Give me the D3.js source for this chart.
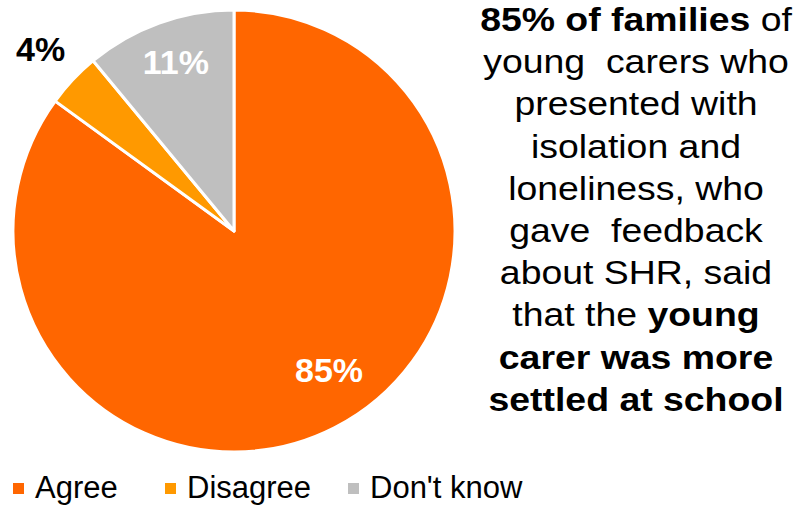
<!DOCTYPE html>
<html>
<head>
<meta charset="utf-8">
<script src="https://cdn.jsdelivr.net/npm/d3@7"></script>
<style>
  html, body { margin: 0; padding: 0; background: #fff; }
  svg { display: block; font-family: "Liberation Sans", Arial, sans-serif; }
</style>
</head>
<body>
<svg id="chart" width="800" height="506"></svg>
<script>
// Survey responses (percent of families)
const categories = ["Agree", "Disagree", "Don't know"];
const values = [85, 4, 11];

// Statement lines: each line is a list of [text, bold] runs
const statement = [
  [["85% of families", true], [" of", false]],
  [["young  carers who", false]],
  [["presented with", false]],
  [["isolation and", false]],
  [["loneliness, who", false]],
  [["gave  feedback", false]],
  [["about SHR, said", false]],
  [["that the ", false], ["young", true]],
  [["carer was more", true]],
  [["settled at school", true]]
];

const colors = ["#FF6600", "#FF9900", "#BFBFBF"];
const labelColors = ["#ffffff", "#000000", "#ffffff"];
// label placement: radius factor and angle nudge (radians) per slice
const labelRadius = [0.76, 1.2, 0.81];
const labelNudge = [-0.13, 0, 0.015];

const svg = d3.select("#chart");
const cx = 234, cy = 231, r = 221;

const pie = d3.pie().sort(null).value(d => d.value);
const arcs = pie(categories.map((c, i) => ({ name: c, value: values[i], i })));
const arc = d3.arc().innerRadius(0).outerRadius(r);

const g = svg.append("g").attr("transform", `translate(${cx},${cy})`);
g.selectAll("path.slice")
  .data(arcs)
  .join("path")
  .attr("class", "slice")
  .attr("d", arc)
  .attr("fill", d => colors[d.data.i])
  .attr("stroke", "#fff")
  .attr("stroke-width", 3)
  .attr("stroke-linejoin", "round");

// Value labels
g.selectAll("text.val")
  .data(arcs)
  .join("text")
  .attr("class", "val")
  .attr("transform", d => {
    const a = (d.startAngle + d.endAngle) / 2 + labelNudge[d.data.i];
    const rr = r * labelRadius[d.data.i];
    return `translate(${Math.sin(a) * rr},${-Math.cos(a) * rr + 12})`;
  })
  .attr("text-anchor", "middle")
  .attr("font-size", 34)
  .attr("font-weight", "bold")
  .attr("fill", d => labelColors[d.data.i])
  .text(d => d.data.value + "%");

// Statement text block
const st = svg.append("g")
  .attr("transform", "translate(636,0) scale(1.1,1)")
  .append("text")
  .attr("text-anchor", "middle")
  .attr("font-size", 34)
  .attr("fill", "#000")
  .style("white-space", "pre");
statement.forEach((line, k) => {
  const t = st.append("tspan").attr("x", 0).attr("y", 31 + k * 42.2);
  t.selectAll("tspan")
    .data(line)
    .join("tspan")
    .attr("font-weight", d => d[1] ? "bold" : "normal")
    .text(d => d[0]);
});

// Legend
const legendX = [13, 165, 348];
const lg = svg.selectAll("g.legend")
  .data(categories)
  .join("g")
  .attr("class", "legend")
  .attr("transform", (d, i) => `translate(${legendX[i]},0)`);
lg.append("rect")
  .attr("x", 0).attr("y", 483)
  .attr("width", 11).attr("height", 11)
  .attr("fill", (d, i) => colors[i]);
lg.append("text")
  .attr("x", 22)
  .attr("y", 498)
  .attr("font-size", 31)
  .attr("fill", "#000")
  .text(d => d);
</script>
</body>
</html>
